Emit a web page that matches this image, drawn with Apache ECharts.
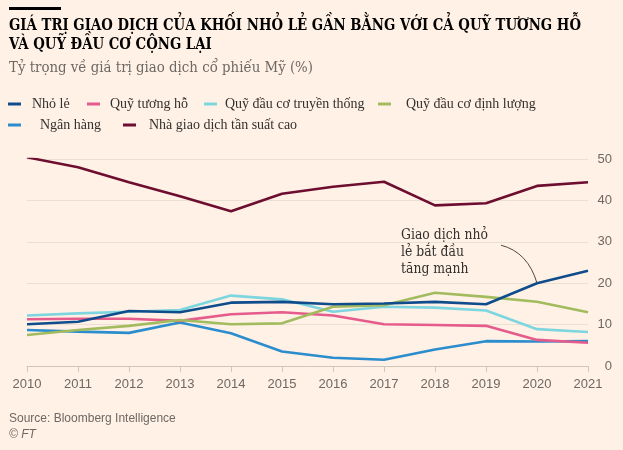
<!DOCTYPE html>
<html>
<head>
<meta charset="utf-8">
<script src="https://cdn.jsdelivr.net/npm/echarts@6/dist/echarts.min.js"></script>
<style>
html,body{margin:0;padding:0;background:#fff1e5;}
#c{width:623px;height:450px;}
</style>
</head>
<body>
<div id="c"></div>
<script>
var years = ['2010','2011','2012','2013','2014','2015','2016','2017','2018','2019','2020','2021'];
var yTicks = [0, 10, 20, 30, 40, 50];
var nhoLe = [10.1, 10.7, 13.3, 13.0, 15.3, 15.5, 14.9, 15.1, 15.5, 14.9, 20.0, 23.0];
var quyTuongHo = [11.3, 11.4, 11.4, 10.9, 12.5, 13.0, 12.2, 10.1, 9.9, 9.7, 6.3, 5.6];
var quyDauCoTruyenThong = [12.2, 12.7, 13.1, 13.5, 17.0, 16.1, 13.1, 14.3, 14.1, 13.4, 8.9, 8.2];
var quyDauCoDinhLuong = [7.5, 8.7, 9.7, 11.1, 10.1, 10.3, 14.3, 14.7, 17.7, 16.7, 15.5, 13.0];
var nganHang = [8.7, 8.3, 8.0, 10.5, 7.9, 3.5, 2.0, 1.5, 4.0, 6.0, 5.9, 6.0];
var tanSuatCao = [50.4, 48.0, 44.4, 41.0, 37.4, 41.6, 43.3, 44.5, 38.8, 39.3, 43.5, 44.4];

var names = ['Nhỏ lẻ','Quỹ tương hỗ','Quỹ đầu cơ truyền thống','Quỹ đầu cơ định lượng','Ngân hàng','Nhà giao dịch tần suất cao'];
var colors = ['#0f4c8c','#e55b8c','#7dd6df','#a2bb5e','#2b8dcd','#6d0d30'];
var titleLine1 = 'GIÁ TRỊ GIAO DỊCH CỦA KHỐI NHỎ LẺ GẦN BẰNG VỚI CẢ QUỸ TƯƠNG HỖ';
var titleLine2 = 'VÀ QUỸ ĐẦU CƠ CỘNG LẠI';
var subtitle = 'Tỷ trọng về giá trị giao dịch cổ phiếu Mỹ (%)';
var annotation = ['Giao dịch nhỏ', 'lẻ bắt đầu', 'tăng mạnh'];

var ctx = document.createElement('canvas').getContext('2d');
function measure(font, txt){ ctx.font = font; return ctx.measureText(txt).width; }
var titleFont = 'bold 16px "DejaVu Serif"';
var subFont = '15px "DejaVu Serif"';
var annFont = '14px "DejaVu Serif"';
var tScale = 572 / measure(titleFont, titleLine1);
var sScale = 304 / measure(subFont, subtitle);
var aScale = 87 / measure(annFont, annotation[0]);

var chart = echarts.init(document.getElementById('c'), null, {renderer:'canvas'});

var legendSpec = [
  {left: 8, top: 97, pad: 6},
  {left: 87, top: 97, pad: 5},
  {left: 204, top: 97, pad: 3},
  {left: 378, top: 97, pad: 10},
  {left: 8, top: 118, pad: 14},
  {left: 123, top: 118, pad: 8}
];
var legends = names.map(function(n, i){
  return {
    data: [n], left: legendSpec[i].left, top: legendSpec[i].top, padding: 0,
    icon: 'rect', itemWidth: 13, itemHeight: 3, selectedMode: false,
    textStyle: {fontFamily: 'Liberation Serif', fontSize: 14, color: '#33302e', padding: [0,0,0,legendSpec[i].pad]}
  };
});

var dataSets = [nhoLe, quyTuongHo, quyDauCoTruyenThong, quyDauCoDinhLuong, nganHang, tanSuatCao];
var zs = [10, 7, 6, 8, 5, 4];
var series = names.map(function(n, i){
  return {
    name: n, type: 'line', data: dataSets[i], symbol: 'none', z: zs[i],
    lineStyle: {width: 2.6, color: colors[i]}, itemStyle: {color: colors[i]},
    emphasis: {disabled: true}
  };
});

var option = {
  backgroundColor: '#fff1e5',
  animation: false,
  legend: legends,
  grid: {left: 27, right: 35, top: 159, bottom: 84, containLabel: false},
  xAxis: {
    type: 'category', data: years, boundaryGap: false,
    axisLine: {lineStyle: {color: '#cfc5bb', width: 1}},
    axisTick: {show: true, alignWithLabel: true, length: 6, lineStyle: {color: '#cfc5bb'}},
    axisLabel: {color: '#6e6864', fontFamily: 'Liberation Sans', fontSize: 13, margin: 12},
    splitLine: {show: false}
  },
  yAxis: {
    type: 'value', position: 'right', min: yTicks[0], max: yTicks[yTicks.length-1], interval: 10,
    axisLine: {show: false}, axisTick: {show: false},
    axisLabel: {color: '#6e6864', fontFamily: 'Liberation Sans', fontSize: 13, align: 'right', margin: 24},
    splitLine: {lineStyle: {color: '#eadfd3', width: 1}}
  },
  series: series
};
chart.setOption(option);

var end = chart.convertToPixel({seriesIndex: 0}, [10, nhoLe[10]]);
var graphics = [
  {type: 'rect', shape: {x: 9, y: 7, width: 52, height: 3}, style: {fill: '#000000'}},
  {type: 'text', x: 9, y: 26, scaleX: tScale, style: {text: titleLine1, font: titleFont, fill: '#000000', verticalAlign: 'middle', align: 'left'}},
  {type: 'text', x: 9, y: 44.5, scaleX: tScale, style: {text: titleLine2, font: titleFont, fill: '#000000', verticalAlign: 'middle', align: 'left'}},
  {type: 'text', x: 9, y: 68, scaleX: sScale, style: {text: subtitle, font: subFont, fill: '#6e6864', verticalAlign: 'middle', align: 'left'}},
  {type: 'text', x: 9, y: 419, style: {text: 'Source: Bloomberg Intelligence', font: '12px "Liberation Sans"', fill: '#6e6864', verticalAlign: 'middle'}},
  {type: 'text', x: 9, y: 435, style: {text: '© FT', font: 'italic 12px "Liberation Sans"', fill: '#6e6864', verticalAlign: 'middle'}},
  {type: 'bezierCurve', shape: {x1: end[0]-36, y1: end[1]-38, cpx1: end[0]-9, cpy1: end[1]-31, x2: end[0], y2: end[1]}, style: {stroke: '#4d4845', lineWidth: 1, fill: null}, z: 20}
];
annotation.forEach(function(t, i){
  graphics.push({type: 'text', x: 401, y: 235 + i*17, scaleX: aScale, style: {text: t, font: annFont, fill: '#33302e', verticalAlign: 'middle'}, z: 20});
});
chart.setOption({graphic: graphics});
</script>
</body>
</html>
